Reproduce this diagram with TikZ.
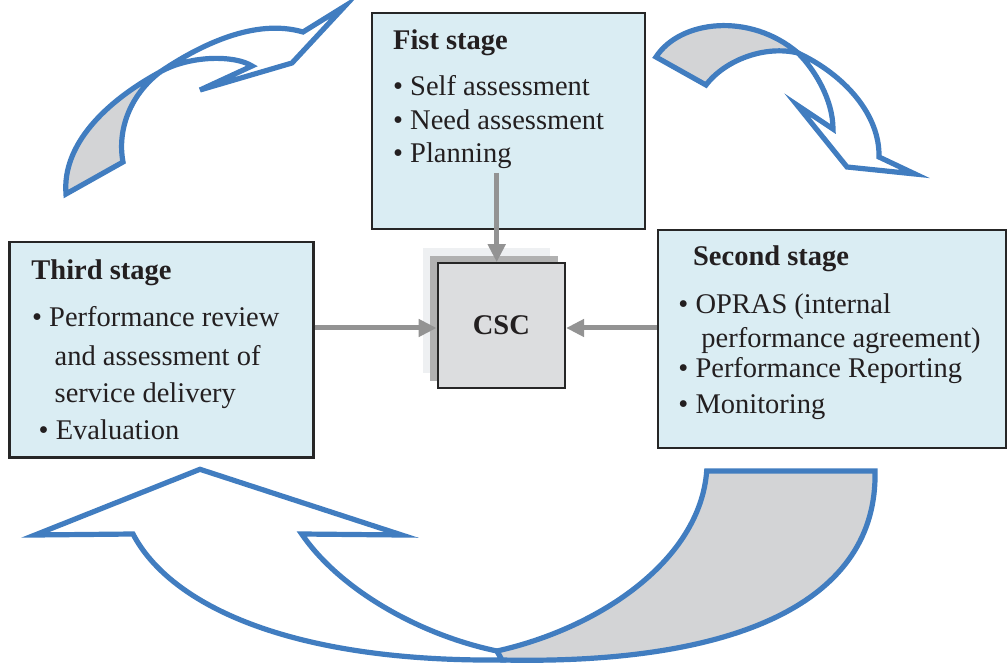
\documentclass[tikz,border=0pt]{standalone}
\usepackage{fontspec}
\setmainfont{Liberation Serif}
\usetikzlibrary{arrows.meta,fit,calc}
\definecolor{boxfill}{RGB}{218,237,243}
\definecolor{boxline}{RGB}{38,38,38}
\definecolor{ribbonblue}{RGB}{65,125,192}
\definecolor{ribbongray}{RGB}{211,212,214}
\definecolor{arrowgray}{RGB}{147,147,147}
\definecolor{cscfill}{RGB}{220,221,223}
\definecolor{shadowmid}{RGB}{177,177,177}
\definecolor{shadowlight}{RGB}{238,240,242}
\definecolor{txt}{RGB}{35,31,32}
\tikzset{
  stagebox/.style={draw=boxline, fill=boxfill, line width=1.1pt, inner sep=0pt},
  cscbox/.style={draw=boxline, fill=cscfill, line width=1.1pt, inner sep=0pt, font=\fontsize{14.25pt}{17pt}\selectfont\bfseries, text=txt},
  ttl/.style={anchor=base west, inner sep=0pt, text=txt, font=\fontsize{14.25pt}{17pt}\selectfont\bfseries},
  itm/.style={anchor=base west, inner sep=0pt, text=txt, font=\fontsize{14.25pt}{17pt}\selectfont},
  grayarrow/.style={draw=arrowgray, line width=2.5pt, -{Triangle[length=9pt,width=8.5pt]}},
  ribbon/.style={draw=ribbonblue, line width=2.6pt},
}
\begin{document}
\begin{tikzpicture}[x=0.5pt,y=-0.5pt]
\useasboundingbox (0,0) rectangle (1007,663);

% stage boxes
\node[stagebox, fit={(372,13) (645,229)}] (first) {};
\node[stagebox, fit={(658,230) (1006,448)}] (second) {};
\node[stagebox, fit={(9.5,242) (313.5,457.5)}] (third) {};

% CSC with shadows
\fill[shadowlight] (422.7,248.3) rectangle (549.5,373);
\fill[shadowmid] (430.2,255.8) rectangle (557.5,380.5);
\node[cscbox, fit={(437.7,263.3) (565,388)}] (csc) {};
\node[cscbox, draw=none, fill=none] (csctext) at (csc.center) {CSC};

% texts first stage
\node[ttl] (t1) at (392.7,49.3) {Fist stage};
\node[itm] (t1a) at (392.7,96) {• Self assessment};
\node[itm] (t1b) at (392.7,129.3) {• Need assessment};
\node[itm] (t1c) at (392.7,163) {• Planning};

% texts second stage
\node[ttl] (t2) at (692.7,265.3) {Second stage};
\node[itm] (t2a) at (678,314) {• OPRAS (internal};
\node[itm] (t2b) at (701,347.3) {performance agreement)};
\node[itm] (t2c) at (678,378) {• Performance Reporting};
\node[itm] (t2d) at (678,413) {• Monitoring};

% texts third stage
\node[ttl] (t3) at (31,280) {Third stage};
\node[itm] (t3a) at (31.7,326.7) {• Performance review};
\node[itm] (t3b) at (54.3,365.3) {and assessment of};
\node[itm] (t3c) at (54.3,402.7) {service delivery};
\node[itm] (t3d) at (38.3,439.3) {• Evaluation};

% gray connectors
\coordinate (fstail) at (496.7,173);
\coordinate (midy) at (0,328);
\draw[grayarrow] (fstail) -- (csc.north -| fstail);
\draw[grayarrow] (third.east |- midy) -- (csc.west |- midy);
\draw[grayarrow] (second.west |- midy) -- (csc.east |- midy);

% top-left ribbon arrow
\filldraw[ribbon, fill=ribbongray] (66,194) .. controls (62,145) and (105,102) .. (160,72)
  .. controls (130,95) and (117,130) .. (123,162) -- cycle;
\filldraw[ribbon, fill=white] (160,72) .. controls (200,45) and (255,18) .. (303,32)
  -- (345,6) -- (292,63) -- (200,90) -- (252,66)
  .. controls (235,55) and (190,55) .. (160,72) -- cycle;

% top-right ribbon arrow
\filldraw[ribbon, fill=ribbongray] (656,57) .. controls (680,20) and (750,12) .. (798,53)
  .. controls (765,45) and (725,60) .. (706,85) -- cycle;
\filldraw[ribbon, fill=white] (798,53) .. controls (845,75) and (880,115) .. (879,157)
  -- (915,174) -- (847,167) -- (797,105) -- (833,129)
  .. controls (833,100) and (815,70) .. (798,53) -- cycle;

% bottom ribbon arrow
\filldraw[ribbon, fill=white] (133,534) .. controls (170,605) and (290,662) .. (502,660)
  -- (497,651) .. controls (420,635) and (340,590) .. (301.7,534)
  -- (401.7,535) -- (200,469.3) -- (35,535) -- cycle;
\filldraw[ribbon, fill=ribbongray] (497,651) .. controls (600,628) and (700,560) .. (706.7,471)
  -- (875,471) .. controls (878,600) and (740,665) .. (502,660) -- cycle;
\end{tikzpicture}
\end{document}
